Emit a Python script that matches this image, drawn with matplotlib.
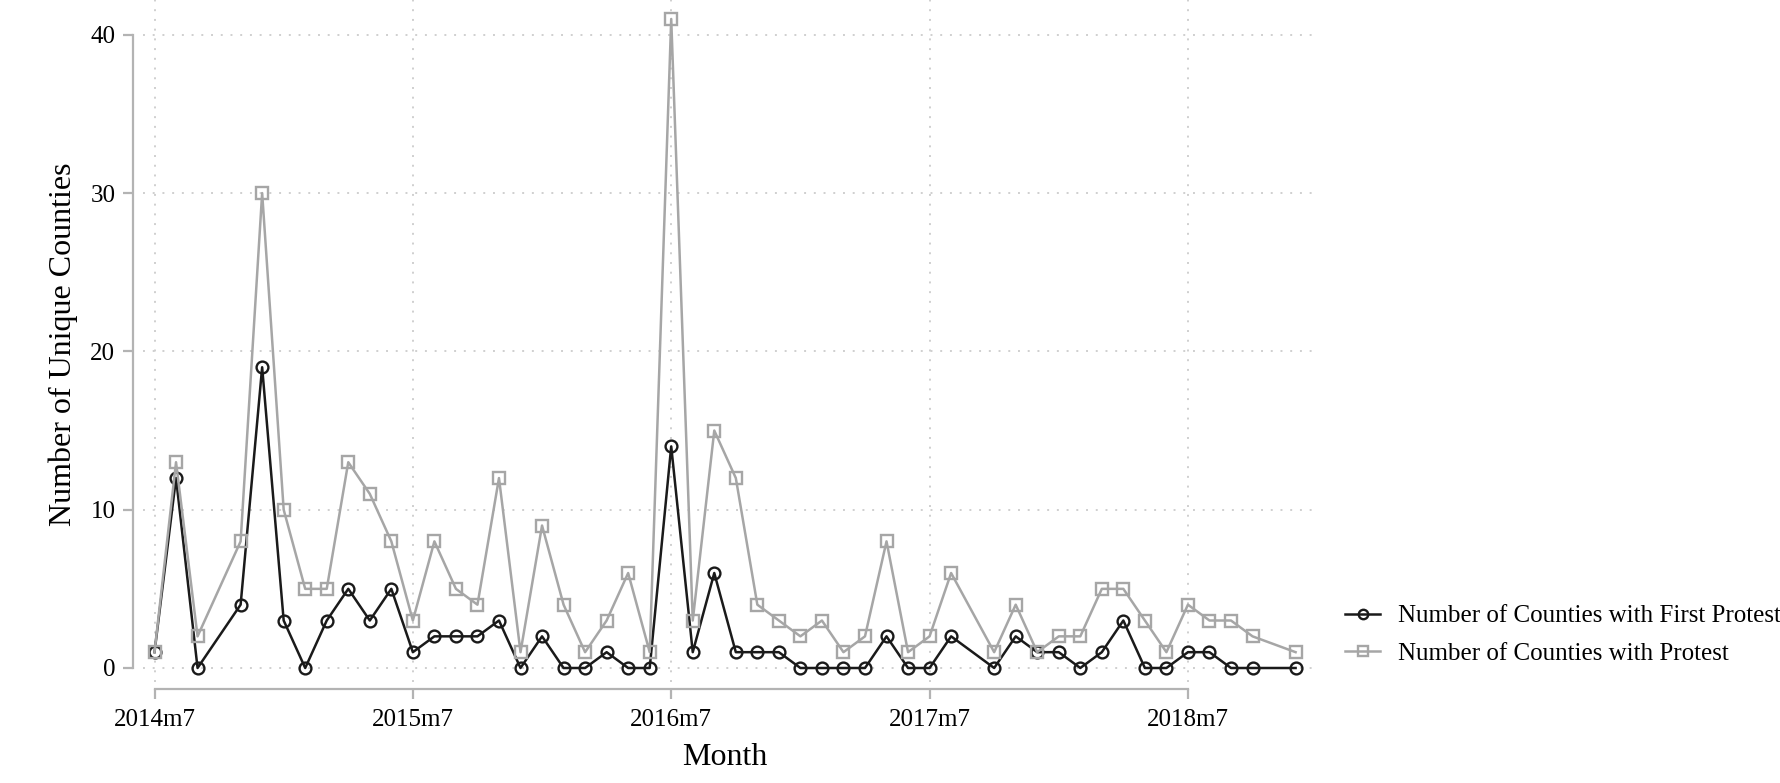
import numpy as np
import matplotlib
matplotlib.use("Agg")
import matplotlib.pyplot as plt

plt.rcParams["font.family"] = ["Liberation Serif", "DejaVu Serif"]

months = [
    "2014m7", "2014m8", "2014m9", "2014m11", "2014m12",
    "2015m1", "2015m2", "2015m3", "2015m4", "2015m5", "2015m6",
    "2015m7", "2015m8", "2015m9", "2015m10", "2015m11", "2015m12",
    "2016m1", "2016m2", "2016m3", "2016m4", "2016m5", "2016m6",
    "2016m7", "2016m8", "2016m9", "2016m10", "2016m11", "2016m12",
    "2017m1", "2017m2", "2017m3", "2017m4", "2017m5", "2017m6",
    "2017m7", "2017m8", "2017m10", "2017m11", "2017m12",
    "2018m1", "2018m2", "2018m3", "2018m4", "2018m5", "2018m6",
    "2018m7", "2018m8", "2018m9", "2018m10", "2018m12",
]
first_protest = [
    1, 12, 0, 4, 19,
    3, 0, 3, 5, 3, 5,
    1, 2, 2, 2, 3, 0,
    2, 0, 0, 1, 0, 0,
    14, 1, 6, 1, 1, 1,
    0, 0, 0, 0, 2, 0,
    0, 2, 0, 2, 1,
    1, 0, 1, 3, 0, 0,
    1, 1, 0, 0, 0,
]
any_protest = [
    1, 13, 2, 8, 30,
    10, 5, 5, 13, 11, 8,
    3, 8, 5, 4, 12, 1,
    9, 4, 1, 3, 6, 1,
    41, 3, 15, 12, 4, 3,
    2, 3, 1, 2, 8, 1,
    2, 6, 1, 4, 1,
    2, 2, 5, 5, 3, 1,
    4, 3, 3, 2, 1,
]
tick_months = ["2014m7", "2015m7", "2016m7", "2017m7", "2018m7"]
y_ticks = [0, 10, 20, 30, 40]


def month_index(label):
    # months since 1960m1, like Stata's %tm
    year, month = label.split("m")
    return (int(year) - 1960) * 12 + int(month) - 1


x = np.array([month_index(m) for m in months])
x_ticks = [month_index(m) for m in tick_months]

W, H = 1781, 783
fig = plt.figure(figsize=(W / 100, H / 100), dpi=100)
ax_left, ax_right, ax_top, ax_bottom = 143, 1313, 0, 682
ax = fig.add_axes([ax_left / W, 1 - ax_bottom / H,
                   (ax_right - ax_left) / W, (ax_bottom - ax_top) / H])

black = "#1a1a1a"
gray = "#a6a6a6"

ax.plot(x, first_protest, color=black, lw=1.8, marker="o", ms=8.5,
        mfc="none", mec=black, mew=1.7, zorder=3,
        label="Number of Counties with First Protest")
ax.plot(x, any_protest, color=gray, lw=1.8, marker="s", ms=8.5,
        mfc="none", mec=gray, mew=1.7, zorder=4,
        label="Number of Counties with Protest")

# axis ranges: 21.53 px per month, 15.83 px per county
px_month = 21.53
px_unit = 15.83
x0 = x_ticks[0]
ax.set_xlim(x0 - (154.5 - ax_left) / px_month,
            x0 + (ax_right - 154.5) / px_month)
ax.set_ylim(-(ax_bottom - 668) / px_unit, (668 - ax_top) / px_unit)

ax.set_xticks(x_ticks)
ax.set_xticklabels(tick_months)
ax.set_yticks(y_ticks)

ax.grid(True, color="#cfcfcf", linestyle=(0, (1, 4)), linewidth=1.4)
ax.set_axisbelow(True)

for side in ["top", "right"]:
    ax.spines[side].set_visible(False)
ax.spines["left"].set_position(("outward", 7.2))
ax.spines["bottom"].set_position(("outward", 5))
ax.spines["left"].set_bounds(y_ticks[0], y_ticks[-1])
ax.spines["bottom"].set_bounds(x_ticks[0], x_ticks[-1])
for side in ["left", "bottom"]:
    ax.spines[side].set_color("#b3b3b3")
    ax.spines[side].set_linewidth(1.6)

ax.tick_params(axis="both", colors="#b3b3b3", labelcolor="black",
               length=7.2, width=1.6, labelsize=18)
ax.tick_params(axis="y", pad=5.5)
ax.tick_params(axis="x", pad=7)

ax.set_xlabel("Month", fontsize=23)
ax.set_ylabel("Number of Unique Counties", fontsize=23)
ax.xaxis.set_label_coords((725 - ax_left) / (ax_right - ax_left),
                          -(743 - ax_bottom) / (ax_bottom - ax_top))
ax.yaxis.set_label_coords(-(ax_left - 78) / (ax_right - ax_left),
                          (ax_bottom - 344) / (ax_bottom - ax_top))

fig.legend(loc="upper left", bbox_to_anchor=(1345 / W, 1 - 605 / H),
           frameon=False, fontsize=18, handlelength=1.4, handletextpad=0.7,
           labelspacing=0.6, borderpad=0, borderaxespad=0, markerscale=0.8)

fig.savefig("out.png", dpi=100)
